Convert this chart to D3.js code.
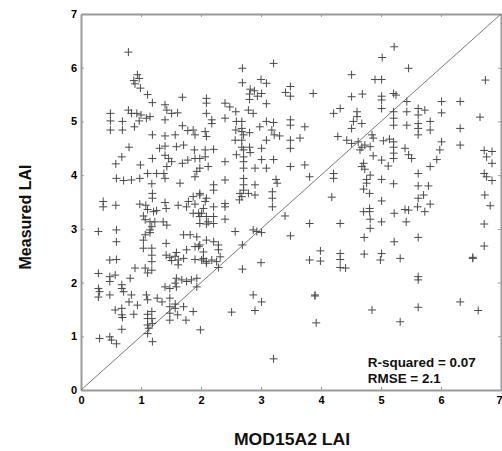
<!DOCTYPE html>
<html>
<head>
<meta charset="utf-8">
<script src="https://cdn.jsdelivr.net/npm/d3@7"></script>
<style>
  body { margin: 0; background: #fff; }
  text { font-family: Arial, "Liberation Sans", sans-serif; font-weight: bold; }
</style>
</head>
<body>
<div id="chart"></div>
<script>
// axis ticks and annotation
const xTicks = [0, 1, 2, 3, 4, 5, 6, 7];
const yTicks = [0, 1, 2, 3, 4, 5, 6, 7];
const statLines = ['R-squared = 0.07', 'RMSE = 2.1'];

// [MOD15A2 LAI, measured LAI]
const samples = [
  [0.79,6.29],[2.69,5.99],[5.22,6.39],[5.02,6.19],[3.21,6.08],[5.46,5.99],[6.74,5.77],
  // upper left
  [0.94,5.87],[0.97,5.80],[0.88,5.76],[0.90,5.70],[0.99,5.62],[1.11,5.50],[1.19,5.35],[0.49,5.15],[0.49,5.01],[0.49,4.84],
  [0.69,5.00],[0.69,4.84],[0.89,4.90],[0.79,5.21],[0.84,5.15],[0.93,5.15],[1.00,5.12],[0.97,5.01],[1.09,5.06],[1.15,5.09],
  [1.40,5.31],[1.43,5.21],[1.40,5.03],[1.51,5.15],[1.61,5.16],[1.69,5.45],[1.19,4.75],[1.40,4.73],[1.57,4.75],[1.69,4.92],
  [1.78,4.83],[1.90,4.75],[1.87,4.84],[2.07,4.81],[0.80,4.52],[0.68,4.34],[0.58,4.21],[0.99,4.19],[1.19,4.31],[1.31,4.50],
  [1.40,4.54],[1.40,4.37],[1.46,4.31],[1.43,4.16],[1.51,4.25],[1.59,4.53],[1.71,4.56],[1.69,4.22],[1.78,4.28],[1.89,4.47],
  [1.90,4.31],[1.98,4.31],[1.98,4.13],[1.93,4.07],[1.90,3.97],[1.26,4.03],[1.38,4.03],[1.40,3.94],[1.65,3.85],[0.59,3.94],
  [0.71,3.90],[0.84,3.91],[0.98,3.94],[1.18,3.84],[1.11,4.03],
  // upper middle
  [2.69,5.72],[3.00,5.78],[3.09,5.71],[2.82,5.60],[2.89,5.57],[2.81,5.51],[3.01,5.52],[2.81,5.41],[2.94,5.47],[3.09,5.33],
  [3.49,5.65],[3.41,5.54],[3.49,5.47],[3.87,5.52],[2.09,5.43],[2.09,5.34],[2.40,5.34],[2.48,5.27],[2.58,5.18],[2.79,5.21],
  [2.87,5.15],[2.09,5.15],[2.18,5.03],[2.18,4.96],[2.40,5.06],[2.59,5.00],[2.68,5.00],[2.58,4.84],[2.68,4.87],[2.68,4.81],
  [2.71,4.75],[2.81,4.79],[2.98,4.90],[3.09,5.00],[3.21,4.98],[3.18,4.84],[3.22,4.75],[3.31,4.73],[3.49,5.03],[3.49,4.93],
  [3.73,4.90],[3.49,4.65],[3.49,4.50],[3.65,4.69],[2.09,4.72],[2.57,4.65],[2.68,4.65],[3.09,4.65],[2.21,4.48],[2.07,4.47],
  [2.07,4.34],[2.68,4.52],[2.71,4.47],[2.81,4.52],[2.82,4.42],[3.01,4.50],[2.59,4.38],[2.71,4.34],[3.01,4.29],[3.21,4.29],
  [2.40,4.25],[2.71,4.25],[2.71,4.13],[2.90,4.13],[3.09,4.13],[2.12,4.16],[3.49,4.16],[3.73,4.19],[3.81,3.97],[2.40,3.91],
  [2.71,3.94],[2.71,3.82],[2.90,3.82],[3.25,3.92],[3.27,3.85],[2.21,3.82],[4.21,5.15],[4.32,5.24],[4.28,4.72],[4.43,4.65],
  [4.21,4.03],[4.21,3.94],
  // upper right
  [4.51,5.87],[4.90,5.78],[5.01,5.78],[4.51,5.46],[4.69,5.51],[5.01,5.47],[5.01,5.40],[5.01,5.24],[5.21,5.52],[5.25,5.49],
  [5.43,5.37],[6.01,5.37],[6.32,5.37],[4.60,5.18],[4.60,5.09],[4.54,5.00],[4.51,4.87],[4.68,4.96],[5.21,5.18],[5.21,5.06],
  [5.21,4.93],[5.43,5.18],[5.43,4.93],[5.62,5.24],[5.62,5.12],[5.62,4.96],[5.62,4.87],[5.62,4.75],[5.73,5.21],[5.82,5.00],
  [5.82,4.84],[6.01,5.16],[6.65,5.08],[6.32,4.87],[6.32,4.56],[6.01,4.62],[5.98,4.47],[5.93,4.29],[5.82,4.16],[5.62,4.03],
  [5.62,3.80],[5.79,3.80],[4.85,4.75],[4.87,4.69],[5.04,4.64],[5.14,4.67],[5.21,4.62],[5.21,4.52],[5.21,4.41],[5.21,4.31],
  [5.40,4.50],[5.46,4.38],[5.51,4.31],[4.51,4.59],[4.62,4.62],[4.68,4.52],[4.73,4.56],[4.82,4.53],[4.65,4.47],[4.87,4.36],
  [5.01,4.28],[5.12,4.17],[4.71,4.22],[4.68,4.16],[4.73,4.11],[4.82,4.00],[4.76,3.92],[4.76,3.85],[5.01,3.92],[5.21,3.84],
  [6.72,4.46],[6.85,4.44],[6.76,4.34],[6.85,4.22],[6.72,4.03],[6.76,3.97],[6.85,3.90],
  // middle left
  [1.19,3.66],[1.19,3.57],[0.37,3.51],[0.37,3.41],[0.58,3.44],[0.98,3.46],[1.08,3.44],[1.11,3.36],[1.21,3.32],[1.26,3.34],
  [1.40,3.49],[1.42,3.38],[1.62,3.44],[1.79,3.51],[1.87,3.60],[1.98,3.63],[1.76,3.41],[1.90,3.46],[2.04,3.38],[1.87,3.29],
  [1.96,3.29],[1.98,3.23],[1.04,3.24],[1.07,3.17],[1.15,3.13],[1.23,3.13],[1.18,3.04],[1.15,2.98],[1.37,3.13],[1.43,3.07],
  [0.29,2.95],[0.59,2.98],[0.59,2.76],[1.07,2.89],[1.04,2.79],[1.15,2.93],[1.04,2.64],[1.18,2.64],[1.18,2.51],[1.18,2.39],
  [1.07,2.27],[1.18,2.23],[1.42,2.73],[1.42,2.51],[1.48,2.47],[1.59,2.56],[1.57,2.49],[1.62,2.42],[1.62,2.33],[1.51,2.41],
  [1.71,2.45],[1.71,2.89],[1.82,2.89],[1.93,2.85],[1.90,2.67],[1.96,2.67],[1.76,2.61],[1.90,2.43],[2.04,2.45],[2.09,2.36],
  [1.98,3.10],[2.12,3.13],[0.48,2.42],[0.59,2.43],[0.90,2.27],[0.29,2.17],[0.48,2.11],[0.57,2.14],[0.48,2.02],[0.68,1.96],
  [0.68,1.89],[0.71,1.83],[0.82,2.08],[1.11,2.18],[0.29,1.89],[0.31,1.83],[0.29,1.73],[0.48,1.77],[0.84,1.77],[1.09,1.77],
  [1.11,1.68],[1.27,1.71],[1.40,1.92],[1.48,1.89],[1.57,1.99],[1.59,1.92],[1.68,2.05],[1.76,2.02],[1.84,2.05],[1.93,2.08],
  [1.93,1.92],[1.48,1.71],[1.57,1.60],[1.59,2.08],
  // lower left
  [0.80,1.64],[0.94,1.58],[1.35,1.64],[0.57,1.49],[0.68,1.52],[0.68,1.40],[0.69,1.35],[0.88,1.41],[1.11,1.41],[1.11,1.33],
  [1.11,1.21],[1.13,1.15],[1.18,1.46],[1.18,1.33],[1.19,1.24],[0.68,1.13],[0.31,0.96],[0.48,0.99],[0.51,0.93],[0.59,0.86],
  [1.11,1.05],[1.19,0.90],[1.48,1.55],[1.48,1.43],[1.48,1.30],[1.57,1.52],[1.61,1.40],[1.71,1.55],[1.75,1.30],[1.87,1.46],
  [1.99,1.12],
  // lower middle and right
  [2.51,1.45],[2.90,1.48],[3.01,1.64],[2.87,1.77],[3.21,0.58],[3.92,1.25],[3.90,1.77],[3.90,1.75],
  [4.85,1.49],[5.32,1.27],[5.62,1.54],[6.32,1.64],[6.62,1.48],
  // middle
  [2.21,3.72],[2.71,3.72],[2.65,3.66],[2.68,3.60],[2.64,3.54],[2.79,3.66],[2.90,3.63],[3.19,3.69],[3.19,3.57],[3.19,3.41],
  [1.98,3.66],[2.07,3.51],[2.09,3.57],[2.21,3.41],[2.40,3.47],[2.40,3.41],[2.01,3.29],[2.09,3.23],[2.21,3.23],[2.21,3.10],
  [2.09,3.09],[2.40,3.18],[2.57,2.95],[2.87,2.98],[2.93,2.95],[3.01,2.93],[3.40,3.24],[3.49,2.87],[3.81,3.10],[4.32,3.10],
  [4.18,3.59],[2.09,2.79],[2.21,2.76],[2.29,2.70],[2.29,2.61],[2.32,2.48],[1.98,2.70],[2.04,2.57],[2.01,2.42],[2.09,2.39],
  [2.18,2.42],[2.26,2.39],[2.29,2.28],[2.69,2.70],[2.69,2.25],[3.00,2.37],[3.81,2.42],[3.99,2.59],[3.99,2.40],[4.32,2.54],
  [4.32,2.43],[4.32,2.28],[4.41,2.27],
  // middle right
  [4.71,3.74],[4.81,3.66],[5.01,3.52],[5.62,3.57],[5.71,3.63],[5.82,3.46],[6.73,3.63],[6.82,3.43],[4.71,3.32],[4.81,3.38],
  [4.81,3.32],[4.82,3.18],[4.82,3.01],[5.01,3.13],[5.22,3.29],[5.40,3.36],[5.46,3.35],[5.42,3.13],[5.61,3.41],[5.73,3.32],
  [4.72,2.84],[5.22,2.76],[5.62,2.84],[6.72,3.09],[6.72,2.68],[4.72,2.53],[5.01,2.54],[4.99,2.42],[5.32,2.45],[5.62,2.11],
  [5.62,2.05],[6.53,2.45],[6.53,2.47]
];

const width = 502, height = 451;
const plot = { left: 81, right: 501, top: 14, bottom: 390 };
const frameColor = '#9a9a9a';

const svg = d3.select('#chart')
  .append('svg')
    .attr('width', width)
    .attr('height', height);

const x = d3.scaleLinear().domain([0, 7]).range([plot.left, plot.right]);
const y = d3.scaleLinear().domain([0, 7]).range([plot.bottom, plot.top]);

// --- frame with inward ticks ---
function styleAxis(g) {
  g.select('.domain').attr('stroke', frameColor).attr('stroke-width', 2);
  g.selectAll('.tick line').attr('stroke', frameColor).attr('stroke-width', 1);
  g.selectAll('.tick text')
    .attr('fill', '#000')
    .style('font-size', '11px')
    .style('font-family', 'Arial, "Liberation Sans", sans-serif')
    .style('font-weight', 'bold');
}

svg.append('g')
  .attr('transform', `translate(0,${plot.bottom})`)
  .call(d3.axisBottom(x).tickValues(xTicks).tickSize(-3).tickSizeOuter(0).tickPadding(6).tickFormat(d3.format('d')))
  .call(styleAxis)
  // last label sits on the window edge, keep it inside
  .call(g => g.selectAll('.tick text').filter(d => d === 7).attr('text-anchor', 'end').attr('x', 1));

svg.append('g')
  .attr('transform', `translate(${plot.left},0)`)
  .call(d3.axisLeft(y).tickValues(yTicks).tickSize(-3).tickSizeOuter(0).tickPadding(4).tickFormat(d3.format('d')))
  .call(styleAxis);

svg.append('g')
  .attr('transform', `translate(0,${plot.top})`)
  .call(d3.axisTop(x).tickValues(xTicks).tickSize(-3).tickSizeOuter(0).tickFormat(''))
  .call(styleAxis);

svg.append('g')
  .attr('transform', `translate(${plot.right},0)`)
  .call(d3.axisRight(y).tickValues(yTicks).tickSize(-3).tickSizeOuter(0).tickFormat(''))
  .call(styleAxis);

// --- 1:1 line ---
svg.append('path')
  .datum([[0, 0], [7, 7]])
  .attr('d', d3.line().x(d => x(d[0])).y(d => y(d[1])))
  .attr('fill', 'none')
  .attr('stroke', '#7a7a7a')
  .attr('stroke-width', 1);

// --- points ---
svg.append('g')
  .selectAll('path')
  .data(samples)
  .join('path')
    .attr('transform', d => `translate(${x(d[0])},${y(d[1])})`)
    .attr('d', 'M-4,0H4M0,-4V4')
    .attr('stroke', '#4a4a4a')
    .attr('stroke-width', 1)
    .attr('fill', 'none');

// --- stats ---
svg.append('g')
  .selectAll('text')
  .data(statLines)
  .join('text')
    .attr('transform', (d, i) => `translate(${x(4.78)},${y(0.43) + i * 16}) scale(1.12,1)`)
    .style('font-size', '12px')
    .attr('fill', '#111')
    .text(d => d);

// --- axis titles ---
svg.append('text')
  .attr('transform', `translate(${(plot.left + plot.right) / 2 + 1},445) scale(1.1,1)`)
  .attr('text-anchor', 'middle')
  .style('font-size', '16px')
  .attr('fill', '#111')
  .text('MOD15A2 LAI');

svg.append('text')
  .attr('transform', 'translate(31,217) rotate(-90)')
  .attr('text-anchor', 'middle')
  .style('font-size', '16px')
  .attr('fill', '#111')
  .text('Measured LAI');
</script>
</body>
</html>
